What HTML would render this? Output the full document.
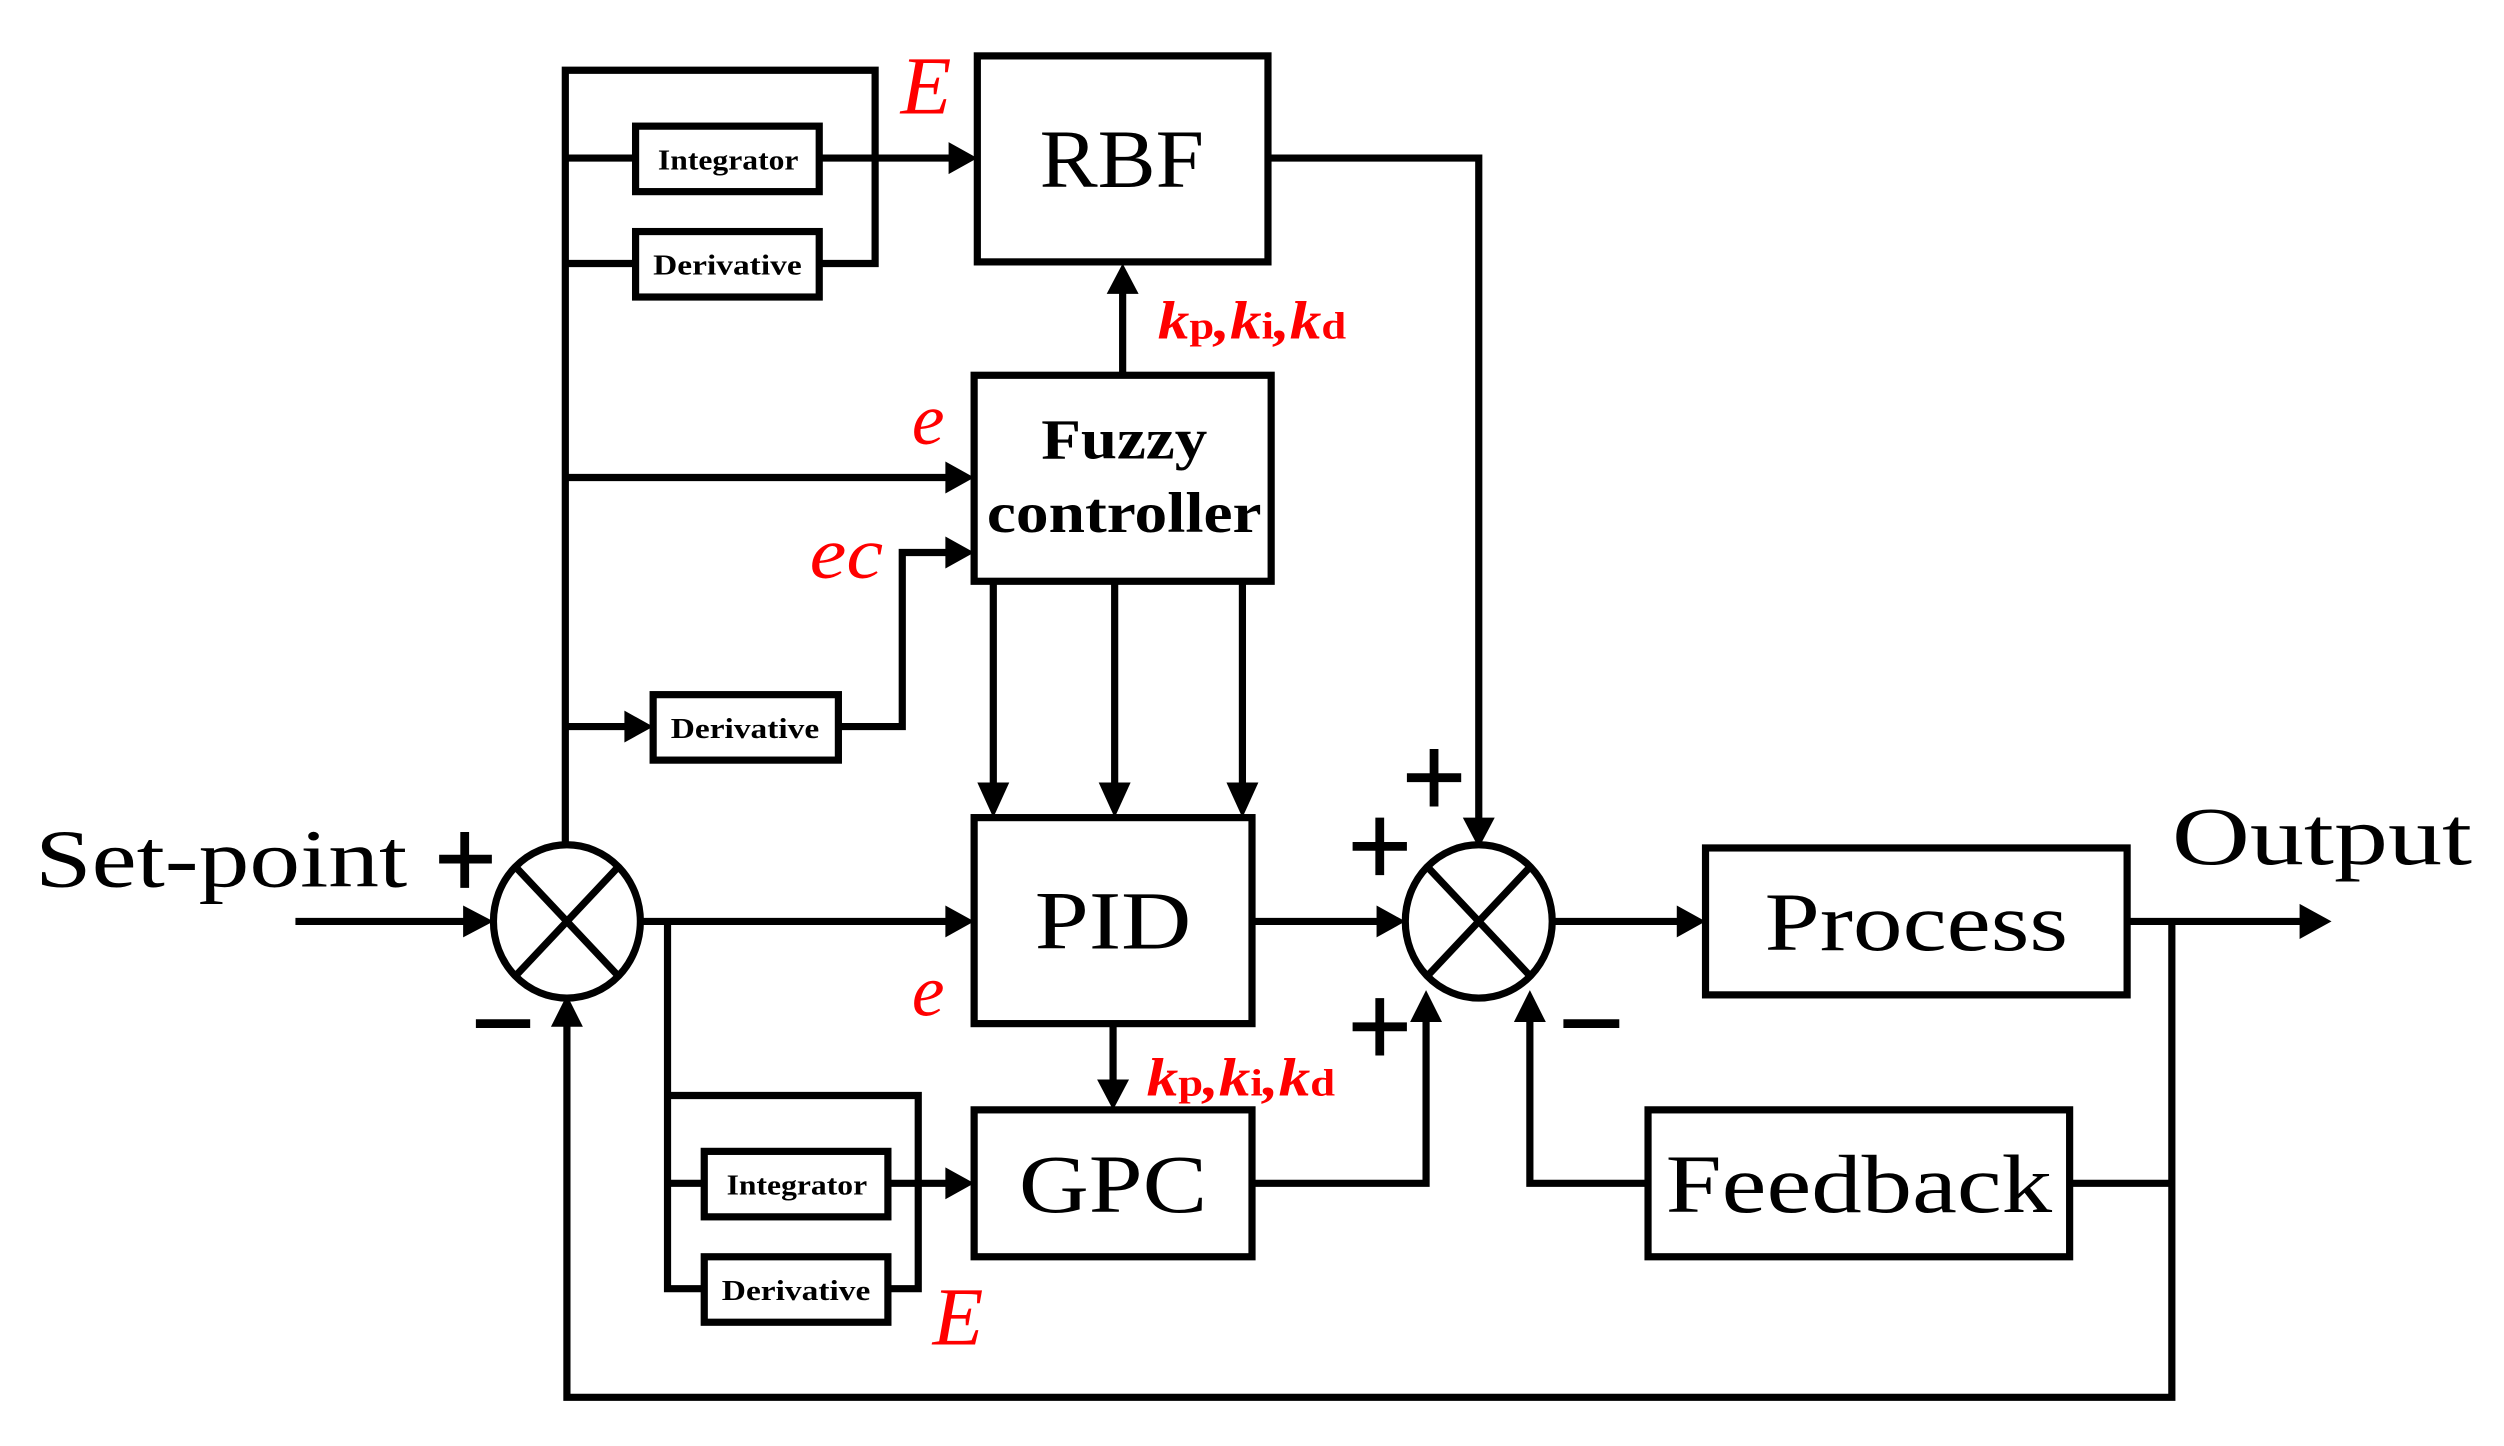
<!DOCTYPE html>
<html><head><meta charset="utf-8"><style>
html,body{margin:0;padding:0;background:#fff;}
svg{display:block;}
text{font-family:"Liberation Serif",serif;}
</style></head><body>
<svg width="2504" height="1446" viewBox="0 0 1568 905.5" preserveAspectRatio="none" xmlns="http://www.w3.org/2000/svg">
<g fill="none" stroke="#000" stroke-width="4.5">
<rect x="612" y="35" width="182" height="129"/>
<rect x="398" y="79" width="115" height="41"/>
<rect x="398" y="145" width="115" height="41"/>
<rect x="610" y="235" width="186" height="129"/>
<rect x="409" y="435" width="116" height="41"/>
<rect x="610" y="512" width="174" height="129"/>
<rect x="610" y="695" width="174" height="92"/>
<rect x="441" y="721" width="115" height="41"/>
<rect x="441" y="787" width="115" height="41"/>
<rect x="1068" y="531" width="264" height="92"/>
<rect x="1032" y="695" width="264" height="92"/>
<ellipse cx="355" cy="577" rx="46" ry="48"/>
<line x1="323" y1="543" x2="387" y2="611"/><line x1="387" y1="543" x2="323" y2="611"/>
<ellipse cx="926" cy="577" rx="46" ry="48"/>
<line x1="894" y1="543" x2="958" y2="611"/><line x1="958" y1="543" x2="894" y2="611"/>
<polyline points="354,529 354,44 548,44 548,165 513,165"/>
<line x1="354" y1="99" x2="398" y2="99"/>
<line x1="354" y1="165" x2="398" y2="165"/>
<line x1="513" y1="99" x2="600" y2="99"/>
<line x1="703" y1="235" x2="703" y2="180"/>
<line x1="354" y1="299" x2="598" y2="299"/>
<polyline points="525,455 565,455 565,346 598,346"/>
<line x1="354" y1="455" x2="396" y2="455"/>
<line x1="622" y1="364" x2="622" y2="495"/>
<line x1="698" y1="364" x2="698" y2="495"/>
<line x1="778" y1="364" x2="778" y2="495"/>
<line x1="185" y1="577" x2="295" y2="577"/>
<line x1="401" y1="577" x2="598" y2="577"/>
<polyline points="418,577 418,807 441,807"/>
<polyline points="418,686 575,686 575,807 556,807"/>
<line x1="418" y1="741" x2="441" y2="741"/>
<line x1="556" y1="741" x2="598" y2="741"/>
<line x1="697" y1="641" x2="697" y2="680"/>
<line x1="784" y1="577" x2="866" y2="577"/>
<polyline points="795,99 926,99 926,516"/>
<polyline points="784,741 893,741 893,636"/>
<polyline points="1032,741 958,741 958,636"/>
<line x1="972" y1="577" x2="1055" y2="577"/>
<line x1="1332" y1="577" x2="1445" y2="577"/>
<polyline points="1296,741 1360,741"/>
<polyline points="1360,577 1360,875 355,875 355,638"/>
</g>
<g fill="#000">
<polygon points="612,99 594,89 594,109"/>
<polygon points="703,165 693,184 713,184"/>
<polygon points="610,299 592,289 592,309"/>
<polygon points="610,346 592,336 592,356"/>
<polygon points="409,455 391,445 391,465"/>
<polygon points="622,512 612,490 632,490"/>
<polygon points="698,512 688,490 708,490"/>
<polygon points="778,512 768,490 788,490"/>
<polygon points="309,577 290,567 290,587"/>
<polygon points="610,577 592,567 592,587"/>
<polygon points="610,741 592,731 592,751"/>
<polygon points="697,695 687,676 707,676"/>
<polygon points="880,577 862,567 862,587"/>
<polygon points="926,531 916,512 936,512"/>
<polygon points="893,620 883,640 903,640"/>
<polygon points="958,620 948,640 968,640"/>
<polygon points="1068,577 1050,567 1050,587"/>
<polygon points="1460,577 1440,566 1440,588"/>
<polygon points="355,623 345,643 365,643"/>
</g>
<g fill="#000" lengthAdjust="spacingAndGlyphs">
<text x="651" y="117" font-size="52" textLength="103" lengthAdjust="spacingAndGlyphs">RBF</text>
<text x="412" y="106" font-size="18" font-weight="bold" textLength="88" lengthAdjust="spacingAndGlyphs">Integrator</text>
<text x="409" y="172" font-size="18" font-weight="bold" textLength="93" lengthAdjust="spacingAndGlyphs">Derivative</text>
<text x="652" y="287" font-size="36" font-weight="bold" textLength="104" lengthAdjust="spacingAndGlyphs">Fuzzy</text>
<text x="618" y="333" font-size="36" font-weight="bold" textLength="172" lengthAdjust="spacingAndGlyphs">controller</text>
<text x="420" y="462" font-size="18" font-weight="bold" textLength="93" lengthAdjust="spacingAndGlyphs">Derivative</text>
<text x="648" y="594" font-size="52" textLength="98" lengthAdjust="spacingAndGlyphs">PID</text>
<text x="638" y="759" font-size="52" textLength="118" lengthAdjust="spacingAndGlyphs">GPC</text>
<text x="455" y="748" font-size="18" font-weight="bold" textLength="88" lengthAdjust="spacingAndGlyphs">Integrator</text>
<text x="452" y="814" font-size="18" font-weight="bold" textLength="93" lengthAdjust="spacingAndGlyphs">Derivative</text>
<text x="1105" y="595" font-size="52" textLength="190" lengthAdjust="spacingAndGlyphs">Process</text>
<text x="1043" y="759" font-size="52" textLength="242" lengthAdjust="spacingAndGlyphs">Feedback</text>
<text x="22" y="555" font-size="52" textLength="233" lengthAdjust="spacingAndGlyphs">Set-point</text>
<text x="1360" y="541" font-size="52" textLength="188" lengthAdjust="spacingAndGlyphs">Output</text>
</g>
<g stroke="#000" stroke-width="5.5">
<line x1="275" y1="538" x2="308" y2="538"/><line x1="291" y1="521" x2="291" y2="556"/>
<line x1="298" y1="641" x2="332" y2="641"/>
<line x1="881" y1="487" x2="915" y2="487"/><line x1="898" y1="469" x2="898" y2="505"/>
<line x1="847" y1="530" x2="881" y2="530"/><line x1="864" y1="512" x2="864" y2="548"/>
<line x1="847" y1="643" x2="881" y2="643"/><line x1="864" y1="625" x2="864" y2="661"/>
<line x1="979" y1="641" x2="1014" y2="641"/>
</g>
<g fill="#f00" font-style="italic">
<text x="564" y="71" font-size="52">E</text>
<text x="571" y="278" font-size="46">e</text>
<text x="507" y="362" font-size="46" textLength="46" lengthAdjust="spacingAndGlyphs">ec</text>
<text x="571" y="636" font-size="46">e</text>
<text x="584" y="842" font-size="52">E</text>
<text x="725" y="212" font-size="34" font-weight="bold" textLength="118" lengthAdjust="spacingAndGlyphs">k<tspan font-style="normal" font-size="24">p</tspan>,k<tspan font-style="normal" font-size="24">i</tspan>,k<tspan font-style="normal" font-size="24">d</tspan></text>
<text x="718" y="686" font-size="34" font-weight="bold" textLength="118" lengthAdjust="spacingAndGlyphs">k<tspan font-style="normal" font-size="24">p</tspan>,k<tspan font-style="normal" font-size="24">i</tspan>,k<tspan font-style="normal" font-size="24">d</tspan></text>
</g>
</svg>
</body></html>
